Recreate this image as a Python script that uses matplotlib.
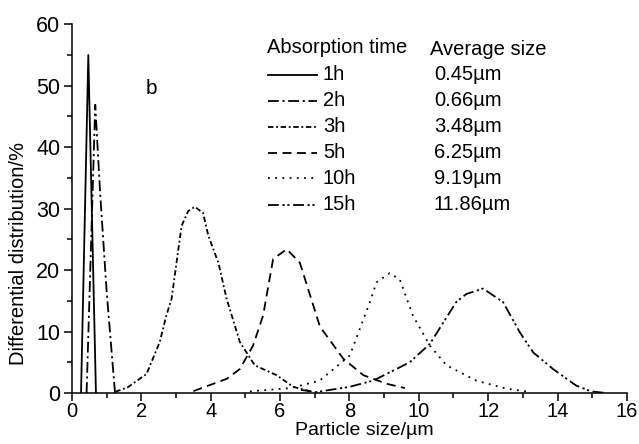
import matplotlib.pyplot as plt
from matplotlib.ticker import MultipleLocator

plt.rcParams['font.family'] = ['Liberation Sans', 'DejaVu Sans']

# particle size (um) and differential distribution (%)
x_1h = [0.26, 0.47, 0.69]
y_1h = [0.0, 55.0, 0.0]
x_2h = [0.42, 0.67, 0.81, 1.0, 1.24]
y_2h = [0.0, 46.9, 32.6, 16.4, 0.0]
x_3h = [1.25, 1.6, 2.15, 2.53, 2.72, 2.87, 3.16, 3.35, 3.54, 3.78, 3.93, 4.22, 4.46, 4.84, 5.27, 5.9, 6.38, 6.86]
y_3h = [0.2, 0.9, 3.1, 8.3, 12.6, 15.3, 27.2, 29.6, 30.3, 29.3, 25.6, 21.2, 15.3, 8.3, 4.5, 2.9, 1.0, 0.3]
x_5h = [3.5, 4.46, 4.84, 5.22, 5.51, 5.8, 6.19, 6.57, 7.15, 7.82, 8.4, 9.07, 9.6]
y_5h = [0.3, 2.3, 3.9, 7.7, 12.6, 21.8, 23.4, 21.2, 10.8, 5.6, 2.9, 1.5, 0.8]
x_10h = [5.13, 6.3, 7.14, 8.01, 8.59, 8.78, 9.16, 9.45, 9.83, 10.32, 10.8, 11.66, 12.53, 13.1]
y_10h = [0.26, 0.8, 2.0, 6.1, 14.8, 18.0, 19.5, 18.5, 12.6, 7.7, 4.5, 2.0, 0.7, 0.26]
x_15h = [6.6, 7.05, 8.0, 8.68, 9.74, 10.32, 11.08, 11.37, 11.85, 12.43, 12.91, 13.3, 13.87, 14.54, 14.97, 15.4]
y_15h = [0.5, 0.15, 1.0, 2.0, 5.0, 8.0, 14.8, 16.1, 17.0, 14.8, 9.9, 6.6, 3.9, 1.2, 0.26, 0.0]

times = ["1h", "2h", "3h", "5h", "10h", "15h"]
avg_sizes = ["0.45\u00b5m", "0.66\u00b5m", "3.48\u00b5m", "6.25\u00b5m", "9.19\u00b5m", "11.86\u00b5m"]

styles = ['-', (0, (6, 2, 1.2, 2)), (0, (3, 1.5, 1, 1.5)), (0, (5, 3)), (0, (1, 3)),
          (0, (6, 2, 1.2, 1.5, 1.2, 2))]

fig = plt.figure(figsize=(6.39, 4.44), dpi=100)
ax = fig.add_axes([0.1127, 0.1149, 0.8683, 0.8304])

xs = [x_1h, x_2h, x_3h, x_5h, x_10h, x_15h]
ys = [y_1h, y_2h, y_3h, y_5h, y_10h, y_15h]
for xv, yv, ls in zip(xs, ys, styles):
    ax.plot(xv, yv, color='black', lw=1.3, linestyle=ls)

ax.set_xlim(0, 16)
ax.set_ylim(0, 60)
ax.xaxis.set_major_locator(MultipleLocator(2))
ax.xaxis.set_minor_locator(MultipleLocator(1))
ax.yaxis.set_major_locator(MultipleLocator(10))
ax.yaxis.set_minor_locator(MultipleLocator(5))
ax.tick_params(which='major', direction='out', length=5.5, width=1.1)
ax.tick_params(which='minor', direction='out', length=3.5, width=1.1)
ax.tick_params(axis='x', which='major', labelsize=14.5, pad=1)
ax.tick_params(axis='y', which='major', labelsize=15.5, pad=3)
for s in ['top', 'right']:
    ax.spines[s].set_visible(False)
for s in ['left', 'bottom']:
    ax.spines[s].set_linewidth(1.1)

ax.set_xlabel("Particle size/\u00b5m", fontsize=14)
ax.xaxis.set_label_coords(0.527, -0.0775)
ax.set_ylabel("Differential distribution/%", fontsize=14.5)
ax.yaxis.set_label_coords(-0.079, 0.379)

ax.text(2.3, 49.5, "b", fontsize=15, ha='center', va='center')

# legend drawn by hand
tr = ax.transAxes
ax.text(0.351, 0.936, "Absorption time", transform=tr, fontsize=14.5, va='center')
ax.text(0.645, 0.932, "Average size", transform=tr, fontsize=14.5, va='center')
row_y = [0.863, 0.793, 0.722, 0.652, 0.582, 0.511]
for i in range(len(times)):
    ax.plot([0.353, 0.441], [row_y[i], row_y[i]], transform=tr, color='black',
            lw=1.3, linestyle=styles[i])
    ax.text(0.452, row_y[i], times[i], transform=tr, fontsize=14.5, va='center')
    ax.text(0.652, row_y[i], avg_sizes[i], transform=tr, fontsize=14.5, va='center')

plt.savefig("out.png", dpi=100)
